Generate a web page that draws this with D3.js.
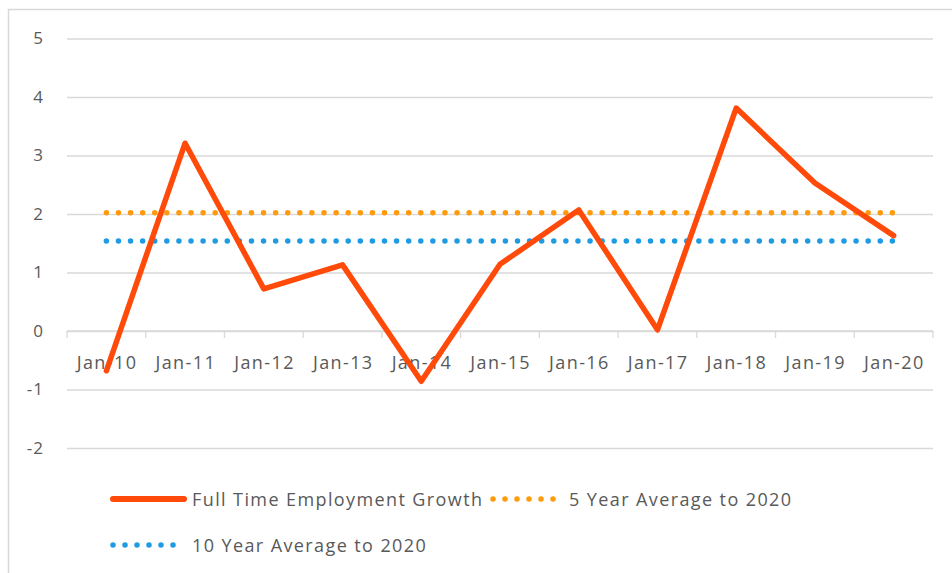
<!DOCTYPE html>
<html>
<head>
<meta charset="utf-8">
<script src="https://cdnjs.cloudflare.com/ajax/libs/d3/7.8.5/d3.min.js"></script>
<style>
  body { margin: 0; background: #fff; }
  text { font-family: "Open Sans", "Liberation Sans", sans-serif; fill: #595959; }
</style>
</head>
<body>
<svg width="952" height="573"></svg>
<script>
// chart data
var categories = ["Jan-10", "Jan-11", "Jan-12", "Jan-13", "Jan-14", "Jan-15", "Jan-16", "Jan-17", "Jan-18", "Jan-19", "Jan-20"];
var growth = [-0.68, 3.21, 0.72, 1.13, -0.86, 1.14, 2.07, 0.02, 3.81, 2.53, 1.63];
var fiveYearAvg = [2.02, 2.02, 2.02, 2.02, 2.02, 2.02, 2.02, 2.02, 2.02, 2.02, 2.02];
var tenYearAvg = [1.54, 1.54, 1.54, 1.54, 1.54, 1.54, 1.54, 1.54, 1.54, 1.54, 1.54];
var yTicks = [-2, -1, 0, 1, 2, 3, 4, 5];
var seriesNames = ["Full Time Employment Growth", "5 Year Average to 2020", "10 Year Average to 2020"];

var svg = d3.select("svg");

// outer chart border (only top and left show in the crop)
svg.append("path")
  .attr("d", "M8.5,573 V9.5 H952")
  .attr("fill", "none")
  .attr("stroke", "#d9d9d9")
  .attr("stroke-width", 1.5);

var x = d3.scaleBand().domain(categories).range([67, 933]);
var y = d3.scaleLinear().domain([-2, 5]).range([448, 38.5]);

// gridlines + y labels (plain hyphen for negatives like excel)
var yAxis = svg.append("g")
  .attr("transform", "translate(67,0)")
  .call(d3.axisLeft(y).tickValues(yTicks).tickSize(-(933 - 67)).tickPadding(23)
    .tickFormat(function(d) { return String(d); }));
yAxis.select(".domain").remove();
yAxis.selectAll(".tick line").attr("stroke", "#d9d9d9").attr("stroke-width", 1.3);
yAxis.selectAll(".tick text")
  .style("font-size", "17px").style("letter-spacing", "1px")
  .attr("fill", "#595959");

// category axis at zero
var xg = svg.append("g").attr("transform", "translate(0," + y(0) + ")");
xg.append("line").attr("x1", 67).attr("x2", 933).attr("stroke", "#d9d9d9").attr("stroke-width", 1.3);
var bounds = categories.map(function(c) { return x(c); }).concat([933]);
xg.selectAll(".tk").data(bounds).enter().append("line")
  .attr("x1", function(d) { return d; }).attr("x2", function(d) { return d; })
  .attr("y1", 0).attr("y2", 7)
  .attr("stroke", "#d9d9d9").attr("stroke-width", 1.3);
xg.selectAll(".lbl").data(categories).enter().append("text")
  .attr("x", function(d) { return x(d) + x.bandwidth() / 2 + 0.7; })
  .attr("y", 37.5)
  .attr("text-anchor", "middle")
  .style("font-size", "18px").style("letter-spacing", "1.4px")
  .text(function(d) { return d; });

function cx(i) { return x(categories[i]) + x.bandwidth() / 2; }
var line = d3.line().x(function(d, i) { return cx(i); }).y(function(d) { return y(d); });

// round dot spacing chosen so a dot lands on both ends (tiny nudge so the last one isn't lost to rounding)
var span = cx(categories.length - 1) - cx(0);
var dotDash = "0 " + (span / 65 - 0.02).toFixed(3);

// averages (round dot)
svg.append("path").datum(fiveYearAvg).attr("d", line)
  .attr("fill", "none").attr("stroke", "#ff9a0a").attr("stroke-width", 5.5)
  .attr("stroke-linecap", "round").attr("stroke-dasharray", dotDash);
svg.append("path").datum(tenYearAvg).attr("d", line)
  .attr("fill", "none").attr("stroke", "#1f9be3").attr("stroke-width", 5.5)
  .attr("stroke-linecap", "round").attr("stroke-dasharray", dotDash);

// main series
svg.append("path").datum(growth).attr("d", line)
  .attr("fill", "none").attr("stroke", "#ff4a0a").attr("stroke-width", 5.5)
  .attr("stroke-linejoin", "round").attr("stroke-linecap", "round");

// legend
var legend = [
  {name: seriesNames[0], x: 113, y: 499, color: "#ff4a0a", dash: null},
  {name: seriesNames[1], x: 493, y: 499, color: "#ff9a0a", dash: "0 12"},
  {name: seriesNames[2], x: 113, y: 545, color: "#1f9be3", dash: "0 12"}
];
var lg = svg.selectAll(".leg").data(legend).enter().append("g");
lg.append("line")
  .attr("x1", function(d) { return d.x; })
  .attr("x2", function(d) { return d.x + (d.dash ? 62 : 71); })
  .attr("y1", function(d) { return d.y; }).attr("y2", function(d) { return d.y; })
  .attr("stroke", function(d) { return d.color; })
  .attr("stroke-width", function(d) { return d.dash ? 5.5 : 6; })
  .attr("stroke-linecap", "round")
  .attr("stroke-dasharray", function(d) { return d.dash; });
lg.append("text")
  .attr("x", function(d) { return d.dash && d.x > 400 ? d.x + 76 : 192; })
  .attr("y", function(d) { return d.y + 6.5; })
  .style("font-size", "18px").style("letter-spacing", "1.4px")
  .text(function(d) { return d.name; });
</script>
</body>
</html>
